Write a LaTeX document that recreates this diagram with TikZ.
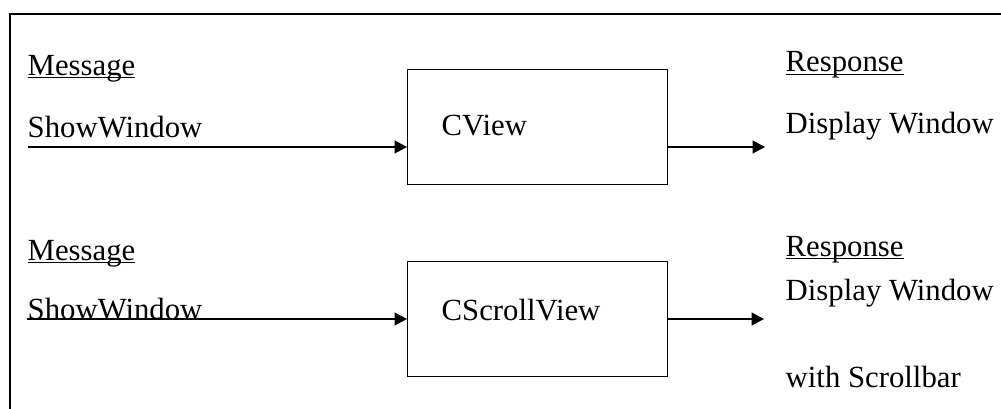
\documentclass[tikz,border=0pt]{standalone}
\usepackage{fontspec}
\setmainfont{Liberation Serif}
\usetikzlibrary{arrows.meta,positioning}
\newcommand\ulin[1]{\setbox0\hbox{#1}\rlap{\rule[-1.6pt]{\wd0}{0.7pt}}\box0}

\begin{document}
\begin{tikzpicture}[line width=0.8pt, font=\fontsize{17.5}{20}\selectfont,
  txt/.style={anchor=base west, inner sep=0pt},
  cls/.style={draw, anchor=north west, inner ysep=0pt, inner xsep=0.68cm, text width=3.84cm, align=left},
  msg/.style={-{Triangle[length=0.25cm, width=0.26cm]}}]
\clip (0,0) rectangle (20.02,8.16);
\draw[line width=1pt] (20.3,7.88) -- (0.2,7.88) -- (0.2,-0.3);
\node[cls, text height=1.32cm, text depth=0.98cm] (view) at (8.14,6.78) {CView};
\node[cls, text height=1.18cm, text depth=1.12cm] (scroll) at (8.14,2.94) {CScrollView};
\node[txt] (m1) at (0.54,6.66) {\ulin{Message}};
\node[txt] (sw1) at (0.54,5.42) {ShowWindow};
\node[txt] (r1) at (15.7,6.72) {\ulin{Response}};
\node[txt] (d1) at (15.7,5.5) {Display Window};
\node[txt] (m2) at (0.54,2.96) {\ulin{Message}};
\node[txt] (sw2) at (0.54,1.78) {ShowWindow};
\node[txt] (r2) at (15.7,3.04) {\ulin{Response}};
\node[txt] (d2) at (15.7,2.16) {Display Window};
\node[txt] (d3) at (15.7,0.42) {with Scrollbar};
\coordinate (in1) at (0.56,5.22);
\coordinate (out1) at (15.3,5.22);
\coordinate (in2) at (0.54,1.78);
\coordinate (out2) at (15.28,1.78);
\draw[msg] (in1) -- (in1 -| view.west);
\draw[msg] (view.east |- in1) -- (out1);
\draw[msg] (in2) -- (in2 -| scroll.west);
\draw[msg] (scroll.east |- in2) -- (out2);
\end{tikzpicture}
\end{document}
